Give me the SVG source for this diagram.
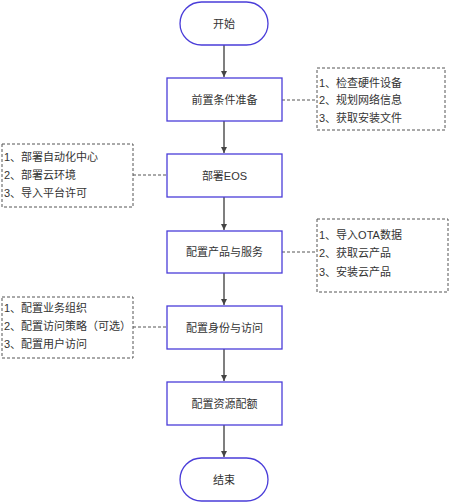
<svg xmlns="http://www.w3.org/2000/svg" width="450" height="504" viewBox="0 0 450 504">
<defs>
<style>
.node{fill:#fff;stroke:#4a3dd9;stroke-width:1.3}
.t{font-family:"Liberation Sans","Noto Sans CJK SC",sans-serif;font-size:11px;fill:#333}
.c{text-anchor:middle;dominant-baseline:central}
.note{fill:#fff;stroke:#555;stroke-width:1;stroke-dasharray:3,2}
.flow{stroke:#555;stroke-width:1.5;fill:none}
.dash{stroke:#555;stroke-width:1;stroke-dasharray:3,2;fill:none}
</style>
<marker id="ah" viewBox="0 0 10 10" refX="10" refY="5" markerWidth="4" markerHeight="4" orient="auto" markerUnits="strokeWidth">
<path d="M0,0 L10,5 L0,10 z" fill="#444"/>
</marker>
</defs>
<rect width="450" height="504" fill="#fff"/>
<g id="connectors">
<line class="flow" x1="224" y1="45" x2="224" y2="77" marker-end="url(#ah)"/>
<line class="flow" x1="224" y1="121" x2="224" y2="153" marker-end="url(#ah)"/>
<line class="flow" x1="224" y1="197" x2="224" y2="230" marker-end="url(#ah)"/>
<line class="flow" x1="224" y1="273" x2="224" y2="305" marker-end="url(#ah)"/>
<line class="flow" x1="224" y1="349" x2="224" y2="381" marker-end="url(#ah)"/>
<line class="flow" x1="224" y1="425" x2="224" y2="457" marker-end="url(#ah)"/>
<line class="dash" x1="282" y1="100" x2="317" y2="100"/>
<line class="dash" x1="133" y1="175" x2="167" y2="175"/>
<line class="dash" x1="282" y1="252" x2="317" y2="252"/>
<line class="dash" x1="133" y1="327" x2="167" y2="327"/>
</g>
<g id="start">
<rect class="node" x="180" y="2" width="88" height="43" rx="21.5"/>
<text class="t c" x="224" y="23.5">开始</text>
</g>
<g id="prep">
<rect class="node" x="167" y="78" width="115" height="43"/>
<text class="t c" x="224.5" y="99.5">前置条件准备</text>
</g>
<g id="prep-note">
<rect class="note" x="317" y="68" width="128" height="62"/>
<text class="t" x="319" y="83" dominant-baseline="central">1、检查硬件设备</text>
<text class="t" x="319" y="100" dominant-baseline="central">2、规划网络信息</text>
<text class="t" x="319" y="118" dominant-baseline="central">3、获取安装文件</text>
</g>
<g id="eos">
<rect class="node" x="167" y="154" width="115" height="43"/>
<text class="t c" x="224.5" y="175.5">部署EOS</text>
</g>
<g id="eos-note">
<rect class="note" x="2" y="144" width="131" height="63"/>
<text class="t" x="4" y="157" dominant-baseline="central">1、部署自动化中心</text>
<text class="t" x="4" y="175" dominant-baseline="central">2、部署云环境</text>
<text class="t" x="4" y="193" dominant-baseline="central">3、导入平台许可</text>
</g>
<g id="product">
<rect class="node" x="167" y="231" width="115" height="42"/>
<text class="t c" x="224.5" y="252">配置产品与服务</text>
</g>
<g id="product-note">
<rect class="note" x="317" y="219" width="131" height="73"/>
<text class="t" x="319" y="235" dominant-baseline="central">1、导入OTA数据</text>
<text class="t" x="319" y="253" dominant-baseline="central">2、获取云产品</text>
<text class="t" x="319" y="272" dominant-baseline="central">3、安装云产品</text>
</g>
<g id="identity">
<rect class="node" x="167" y="306" width="115" height="43"/>
<text class="t c" x="224.5" y="327.5">配置身份与访问</text>
</g>
<g id="identity-note">
<rect class="note" x="2" y="297" width="131" height="61"/>
<text class="t" x="4" y="308" dominant-baseline="central">1、配置业务组织</text>
<text class="t" x="4" y="326" dominant-baseline="central">2、配置访问策略（可选）</text>
<text class="t" x="4" y="344" dominant-baseline="central">3、配置用户访问</text>
</g>
<g id="quota">
<rect class="node" x="167" y="382" width="115" height="43"/>
<text class="t c" x="224.5" y="403.5">配置资源配额</text>
</g>
<g id="end">
<rect class="node" x="180" y="458" width="88" height="43" rx="21.5"/>
<text class="t c" x="224" y="479.5">结束</text>
</g>
</svg>
